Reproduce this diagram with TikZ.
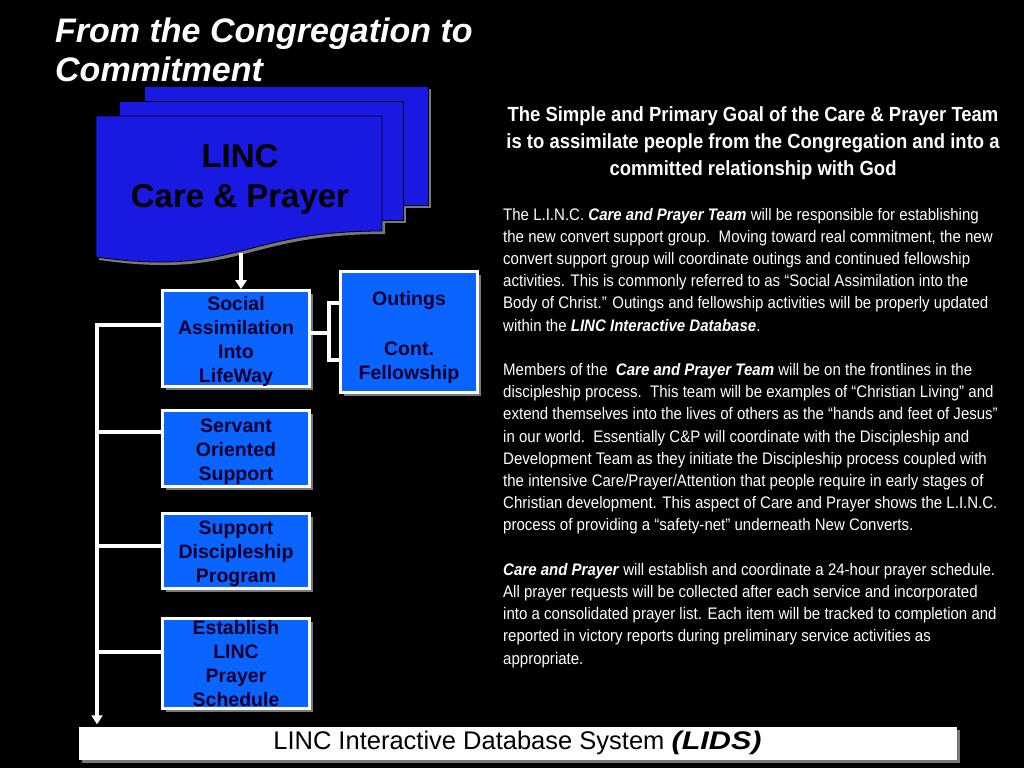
\documentclass[tikz,border=0pt]{standalone}
\usepackage{fontspec}
\setmainfont{Liberation Sans}
\newfontfamily\narrowfont{Liberation Sans}[FakeStretch=0.9]
\usetikzlibrary{arrows.meta,shadows,calc}
\definecolor{boxblue}{RGB}{10,100,255}
\definecolor{docblue}{RGB}{25,25,225}
\definecolor{boxtext}{RGB}{0,0,45}
\definecolor{shadowgray}{RGB}{120,120,120}
\newcommand\topstrut[1]{\rule{0pt}{#1}}
\begin{document}
\begin{tikzpicture}[x=1pt,y=-1pt,
  conn/.style={draw=white,line width=3.2pt},
  arrowconn/.style={conn,-{Triangle[length=9pt,width=11pt]}},
  boxshadow/.style={drop shadow={shadow xshift=3.5pt,shadow yshift=-3.5pt,fill=shadowgray,opacity=1}},
  bluebox/.style={draw=white,line width=2.6pt,fill=boxblue,text=boxtext,
     font=\fontsize{19.5}{24}\selectfont\bfseries,align=center,inner sep=0pt,
     minimum width=147pt,boxshadow},
  sheet/.style={fill=docblue,draw=black,line width=0.8pt},
  sheetshadow/.style={fill=shadowgray},
  txt/.style={inner sep=0pt,text=white}
]
\fill[black] (0,0) rectangle (1024,768);
\useasboundingbox (0,0) rectangle (1024,768);

% title
\node[txt,anchor=base west] (title) at (55,43) {\parbox[t]{520pt}{\fontsize{34}{39}\selectfont\bfseries\itshape From the Congregation to\\Commitment}};

% stacked document
\begin{scope}[shift={(3,3)}]
 \fill[sheetshadow] (144,86) rectangle (428,205);
 \fill[sheetshadow] (119,101) rectangle (403,220);
 \fill[sheetshadow] (96,116) -- (382,116) -- (382,231) .. controls (239,231) and (239,277) .. (96,257) -- cycle;
\end{scope}
\filldraw[sheet] (144,86) rectangle (428,205);
\filldraw[sheet] (119,101) rectangle (403,220);
\filldraw[sheet] (96,116) -- (382,116) -- (382,231) .. controls (239,231) and (239,277) .. (96,257) -- cycle;
\node[txt,text=black,anchor=base] (linc) at (240,167) {\parbox[t]{300pt}{\centering\fontsize{33}{40}\selectfont\bfseries LINC\\Care \& Prayer}};
\coordinate (lincbot) at (241,253);

% boxes
\node[bluebox,minimum height=96pt] (soc) at (236,338.5) {\topstrut{20pt}Social\\Assimilation\\Into\\LifeWay};
\node[bluebox,minimum width=137pt,minimum height=121pt] (out) at (409,332) {\topstrut{25pt}Outings\\[26pt]Cont.\\Fellowship};
\node[bluebox,minimum height=76pt] (serv) at (236,448.5) {\topstrut{20pt}Servant\\Oriented\\Support};
\node[bluebox,minimum height=75pt] (disc) at (236,551) {\topstrut{20pt}Support\\Discipleship\\Program};
\node[bluebox,minimum height=90pt] (est) at (236,663.5) {Establish\\LINC\\Prayer\\Schedule};

% bottom bar
\node[fill=white,minimum width=878pt,minimum height=33pt,inner sep=0pt,boxshadow] (bar) at (517.5,743)
  {\fontsize{25.5}{28}\selectfont LINC Interactive Database System \scalebox{1.2}[1]{\textbf{\textit{(LIDS)}}}};

% connectors
\draw[arrowconn] (lincbot) -- (lincbot |- soc.north);
\coordinate (b1) at (97,325);
\coordinate (b2) at (97,432);
\coordinate (b3) at (97,546);
\coordinate (b4) at (97,652);
\draw[arrowconn,shorten >=2pt] (b1 -| soc.west) -- (b1) -- (b1 |- bar.north);
\draw[conn] (b2) -- (b2 -| serv.west);
\draw[conn] (b3) -- (b3 -| disc.west);
\draw[conn] (b4) -- (b4 -| est.west);
\coordinate (k0) at (329,333);
\coordinate (k1) at (329,303);
\coordinate (k2) at (329,360);
\draw[conn] (k0 -| soc.east) -- (k0);
\draw[conn] (k1 -| out.west) -- (k1) -- (k2) -- (k2 -| out.west);

% right-hand text
\node[txt,anchor=base] (goal) at (753,121) {\parbox[t]{560pt}{\centering\narrowfont\fontsize{20.5}{27.3}\selectfont\bfseries The Simple and Primary Goal of the Care \& Prayer Team\\is to assimilate people from the Congregation and into a\\committed relationship with God}};

\node[txt,anchor=base west] (body) at (503,220) {\parbox[t]{540pt}{\raggedright\narrowfont\fontsize{16.7}{22.2}\selectfont
The L.I.N.C. \textbf{\textit{Care and Prayer Team}} will be responsible for establishing\\
the new convert support group.\ \ Moving toward real commitment, the new\\
convert support group will coordinate outings and continued fellowship\\
activities. This is commonly referred to as “Social Assimilation into the\\
Body of Christ.” Outings and fellowship activities will be properly updated\\
within the \textbf{\textit{LINC Interactive Database}}.\\[22.2pt]
Members of the\ \ \textbf{\textit{Care and Prayer Team}} will be on the frontlines in the\\
discipleship process.\ \ This team will be examples of “Christian Living” and\\
extend themselves into the lives of others as the “hands and feet of Jesus”\\
in our world.\ \ Essentially C\&P will coordinate with the Discipleship and\\
Development Team as they initiate the Discipleship process coupled with\\
the intensive Care/Prayer/Attention that people require in early stages of\\
Christian development. This aspect of Care and Prayer shows the L.I.N.C.\\
process of providing a “safety-net” underneath New Converts.\\[22.2pt]
\textbf{\textit{Care and Prayer}} will establish and coordinate a 24-hour prayer schedule.\\
All prayer requests will be collected after each service and incorporated\\
into a consolidated prayer list. Each item will be tracked to completion and\\
reported in victory reports during preliminary service activities as\\
appropriate.}};
\end{tikzpicture}
\end{document}
